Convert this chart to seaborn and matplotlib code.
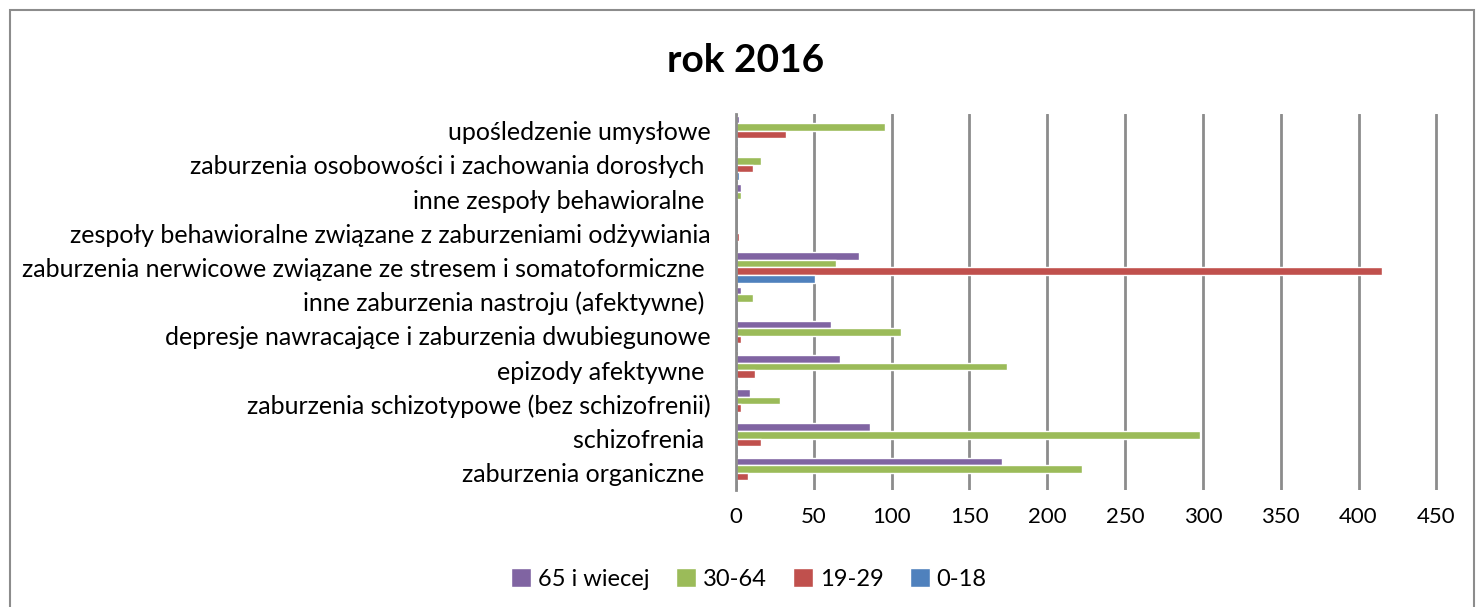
import pandas as pd
import matplotlib
matplotlib.use("Agg")
import matplotlib.pyplot as plt
import seaborn as sns
from matplotlib.patches import Rectangle, Patch

# categories from top to bottom
categories = [
    "upośledzenie umysłowe",
    "zaburzenia osobowości i zachowania dorosłych ",
    "inne zespoły behawioralne ",
    "zespoły behawioralne związane z zaburzeniami odżywiania",
    "zaburzenia nerwicowe związane ze stresem i somatoformiczne ",
    "inne zaburzenia nastroju (afektywne) ",
    "depresje nawracające i zaburzenia dwubiegunowe",
    "epizody afektywne ",
    "zaburzenia schizotypowe (bez schizofrenii)",
    "schizofrenia ",
    "zaburzenia organiczne ",
]
age_groups = ["65 i wiecej", "30-64", "19-29", "0-18"]
v_65 = [2, 1, 3, 0, 79, 3, 61, 67, 9, 86, 171]
v_30 = [96, 16, 3, 0, 64, 11, 106, 174, 28, 298, 222]
v_19 = [32, 11, 0, 2, 415, 0, 3, 12, 3, 16, 8]
v_0 = [1, 2, 0, 0, 51, 0, 1, 1, 0, 1, 0]
xticks = [0, 50, 100, 150, 200, 250, 300, 350, 400, 450]
colors = ["#8064A2", "#9BBB59", "#C0504D", "#4F81BD"]

rows = []
for grp, vals in zip(age_groups, [v_65, v_30, v_19, v_0]):
    for cat, v in zip(categories, vals):
        rows.append({"kategoria": cat, "grupa": grp, "liczba": v})
df = pd.DataFrame(rows)

sns.set_style("white")
plt.rcParams["font.family"] = ["Lato", "DejaVu Sans"]
plt.rcParams["text.color"] = "black"
plt.rcParams["xtick.color"] = "black"
plt.rcParams["ytick.color"] = "black"

fig = plt.figure(figsize=(14.77, 6.07), dpi=100)
ax = fig.add_axes([0.4983, 0.193, 0.490, 0.62])

sns.barplot(data=df, y="kategoria", x="liczba", hue="grupa", order=categories,
            hue_order=age_groups, palette=colors, orient="h", width=0.88,
            saturation=1, ax=ax, legend=False)

ax.set_xlim(0, 465)
ax.set_xticks(xticks)
ax.tick_params(axis="x", labelsize=16, length=0, pad=12)
ax.tick_params(axis="y", labelsize=18, length=0, pad=18)
ax.set_xlabel(""); ax.set_ylabel("")
ax.grid(axis="x", color="#8c8c8c", lw=2)
ax.set_axisbelow(True)
for s in ["top", "right", "bottom"]:
    ax.spines[s].set_visible(False)
ax.spines["left"].set_color("#8c8c8c")
ax.spines["left"].set_linewidth(2)

fig.text(0.505, 0.9, "rok 2016", ha="center", va="center", fontsize=28, fontweight="bold")

handles = [Patch(facecolor=c, label=g) for c, g in zip(colors, age_groups)]
fig.legend(handles=handles, loc="center", bbox_to_anchor=(0.507, 0.046), ncol=4,
           frameon=False, fontsize=17, handlelength=0.85, handleheight=0.85,
           handletextpad=0.3, columnspacing=1.1)

fig.patches.append(Rectangle((0.007, -0.02), 0.991, 1.003, transform=fig.transFigure,
                             fill=False, edgecolor="#8c8c8c", lw=1.5))

fig.savefig("out.png", dpi=100)
